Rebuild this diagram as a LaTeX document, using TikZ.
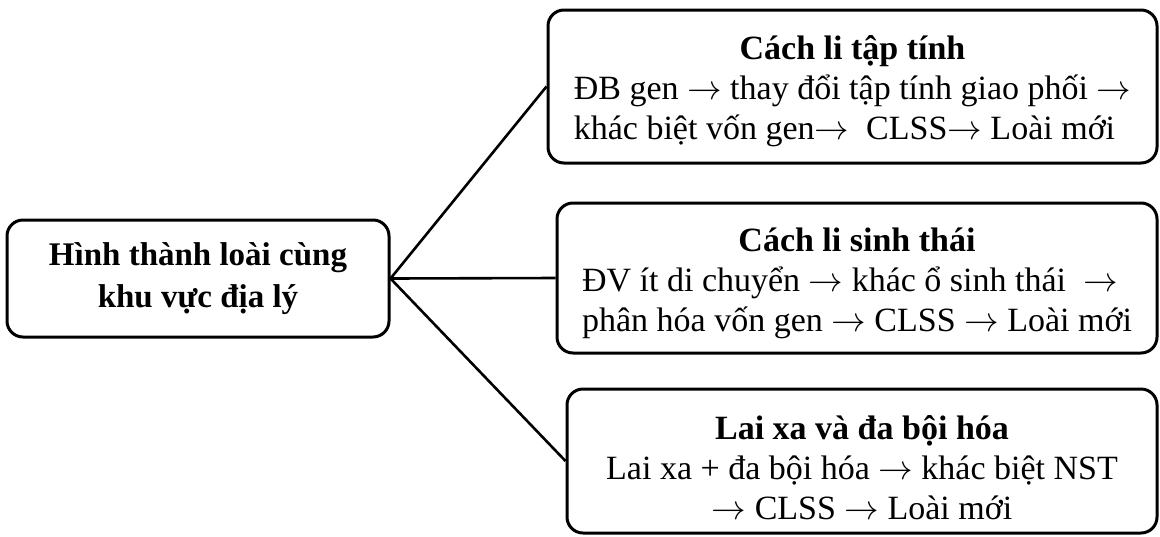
\documentclass[tikz,border=0pt]{standalone}
\usepackage{fontspec}
\setmainfont{Liberation Serif}
\usetikzlibrary{arrows}
\newcommand{\ra}{$\rightarrow$}
\newcommand{\boxtitle}[1]{\rule{0pt}{19pt}\textbf{#1}}

\begin{document}
\begin{tikzpicture}[x=0.5pt, y=-0.5pt,
  box/.style={draw, line width=1.5pt, rounded corners=8pt, align=center, inner sep=0pt,
    font=\fontsize{17}{20}\selectfont},
  link/.style={line width=1.3pt}]
\useasboundingbox (0,0) rectangle (1160,536);
%%%%% Boxes %%%%%
\node[box, minimum width=191pt, minimum height=58.5pt,
  font=\fontsize{16.5}{21}\selectfont\bfseries] (hinhthanh) at (198,278.5)
  {Hình thành loài cùng\\khu vực địa lý};
\node[box, minimum width=304.5pt, minimum height=76.5pt] (taptinh) at (852.5,86.5)
  {\boxtitle{Cách li tập tính}\\
   \begin{tabular}[t]{@{}l@{}}ĐB gen \ra{} thay đổi tập tính giao phối \ra\\
   khác biệt vốn gen\ra~ CLSS\ra{} Loài mới\end{tabular}};
\node[box, minimum width=300pt, minimum height=75pt] (sinhthai) at (857,278)
  {\boxtitle{Cách li sinh thái}\\
   \begin{tabular}[t]{@{}l@{}}ĐV ít di chuyển \ra{} khác ổ sinh thái~ \ra\\
   phân hóa vốn gen \ra{} CLSS \ra{} Loài mới\end{tabular}};
\node[box, minimum width=295pt, minimum height=72pt] (daboi) at (862,461)
  {\boxtitle{Lai xa và đa bội hóa}\\
   Lai xa + đa bội hóa \ra{} khác biệt NST\\
   \ra{} CLSS \ra{} Loài mới};
%%%%% Links %%%%%
\foreach \t in {taptinh,sinhthai,daboi}{
\draw[link] (hinhthanh.east)--(\t.west);
}
\end{tikzpicture}
\end{document}
